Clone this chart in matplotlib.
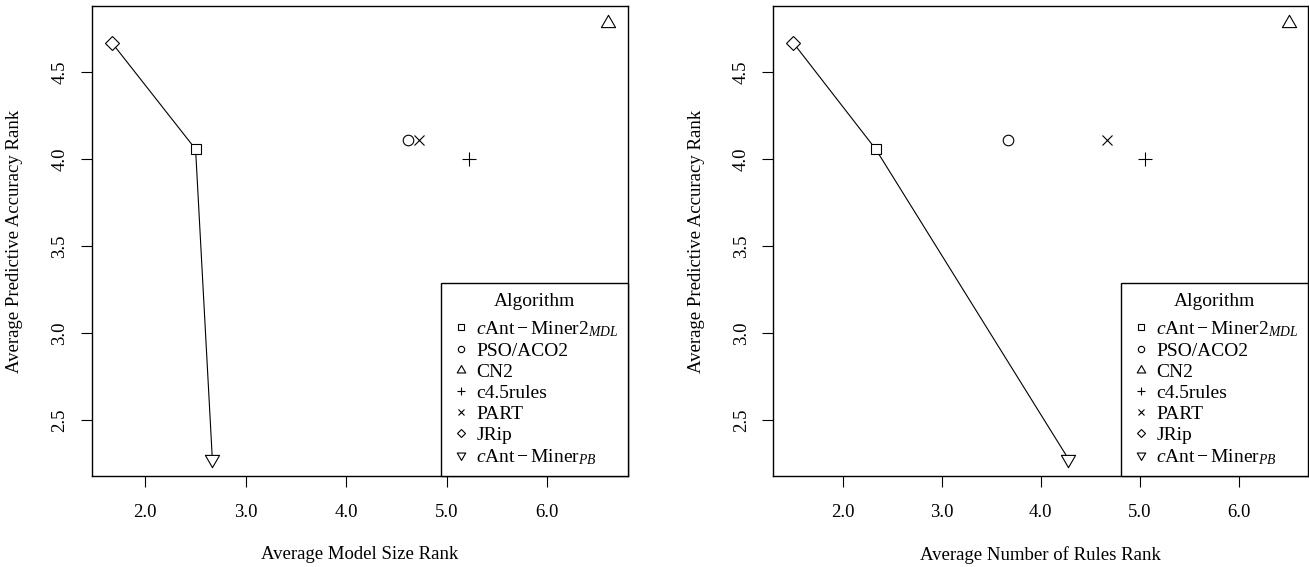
import numpy as np
import matplotlib
matplotlib.use("Agg")
import matplotlib.pyplot as plt
from matplotlib.path import Path
from matplotlib.ticker import FixedLocator, FormatStrFormatter

plt.rcParams['font.family'] = ['Liberation Serif', 'DejaVu Serif']
plt.rcParams['mathtext.fontset'] = 'custom'
plt.rcParams['mathtext.rm'] = 'Liberation Serif'
plt.rcParams['mathtext.it'] = 'Liberation Serif:italic'

# data: average ranks per algorithm
algorithms = [r"$c\mathrm{Ant}-\mathrm{Miner2}_{MDL}$", "PSO/ACO2", "CN2", "c4.5rules",
              "PART", "JRip", r"$c\mathrm{Ant}-\mathrm{Miner}_{PB}$"]
accuracy_rank = [4.0556, 4.1111, 4.7778, 4.0, 4.1111, 4.6667, 2.2778]
model_size_rank = [2.5, 4.6111, 6.6111, 5.2222, 4.7222, 1.6667, 2.6667]
num_rules_rank = [2.3333, 3.6667, 6.5, 5.0556, 4.6667, 1.5, 4.2778]
front = [5, 0, 6]  # JRip -> cAnt-Miner2_MDL -> cAnt-Miner_PB

x_ticks = [2.0, 3.0, 4.0, 5.0, 6.0]
y_ticks = [2.5, 3.0, 3.5, 4.0, 4.5]

# R style point shapes (pch 0..6)
tri_up = Path([(0, 1), (-0.866, -0.5), (0.866, -0.5), (0, 1)],
              [Path.MOVETO, Path.LINETO, Path.LINETO, Path.CLOSEPOLY])
tri_dn = Path([(0, -1), (-0.866, 0.5), (0.866, 0.5), (0, -1)],
              [Path.MOVETO, Path.LINETO, Path.LINETO, Path.CLOSEPOLY])
markers = ['s', 'o', tri_up, '+', 'x', 'D', tri_dn]
sizes = [7.6, 7.6, 11.8, 10.7, 7.6, 7.6, 11.8]

fig = plt.figure(figsize=(13.09, 5.67), dpi=100)
ax1 = fig.add_axes([0.0703, 0.16, 0.4097, 0.8295])
ax2 = fig.add_axes([0.5908, 0.16, 0.4087, 0.8295])


def draw(ax, xs, xlabel):
    ax.plot([xs[i] for i in front], [accuracy_rank[i] for i in front],
            color='black', lw=0.8, zorder=2)
    for i, name in enumerate(algorithms):
        ax.plot(xs[i], accuracy_rank[i], linestyle='none', marker=markers[i],
                ms=sizes[i], mfc='white', mec='black', mew=0.8, label=name, zorder=3)
    ax.margins(x=0.04, y=0.04)
    ax.xaxis.set_major_locator(FixedLocator(x_ticks))
    ax.yaxis.set_major_locator(FixedLocator(y_ticks))
    ax.xaxis.set_major_formatter(FormatStrFormatter('%.1f'))
    ax.yaxis.set_major_formatter(FormatStrFormatter('%.1f'))
    ax.tick_params(direction='out', length=8, width=0.8, labelsize=13.5, color='black')
    ax.tick_params(axis='x', pad=12)
    ax.tick_params(axis='y', pad=9)
    for lab in ax.get_yticklabels():
        lab.set_rotation(90)
        lab.set_va('center')
    for sp in ax.spines.values():
        sp.set_linewidth(1.0)
        sp.set_color('black')
    ax.set_xlabel(xlabel, fontsize=13.5, va='center')
    ax.set_ylabel("Average Predictive Accuracy Rank", fontsize=13.5, va='center')
    ax.xaxis.set_label_coords(0.5, -0.167)
    ax.yaxis.set_label_coords(-0.144, 0.5)
    leg = ax.legend(loc='lower right', borderaxespad=0, fancybox=False,
                    framealpha=1, edgecolor='black', fontsize=14,
                    title="Algorithm", title_fontsize=14, markerscale=0.6,
                    handlelength=1.0, handletextpad=0.3, labelspacing=0.17,
                    borderpad=0.5)
    leg._legend_box.sep = 6.9  # extra gap below the title
    leg.get_frame().set_linewidth(1.0)


draw(ax1, model_size_rank, "Average Model Size Rank")
draw(ax2, num_rules_rank, "Average Number of Rules Rank")

fig.savefig("out.png", dpi=100)
